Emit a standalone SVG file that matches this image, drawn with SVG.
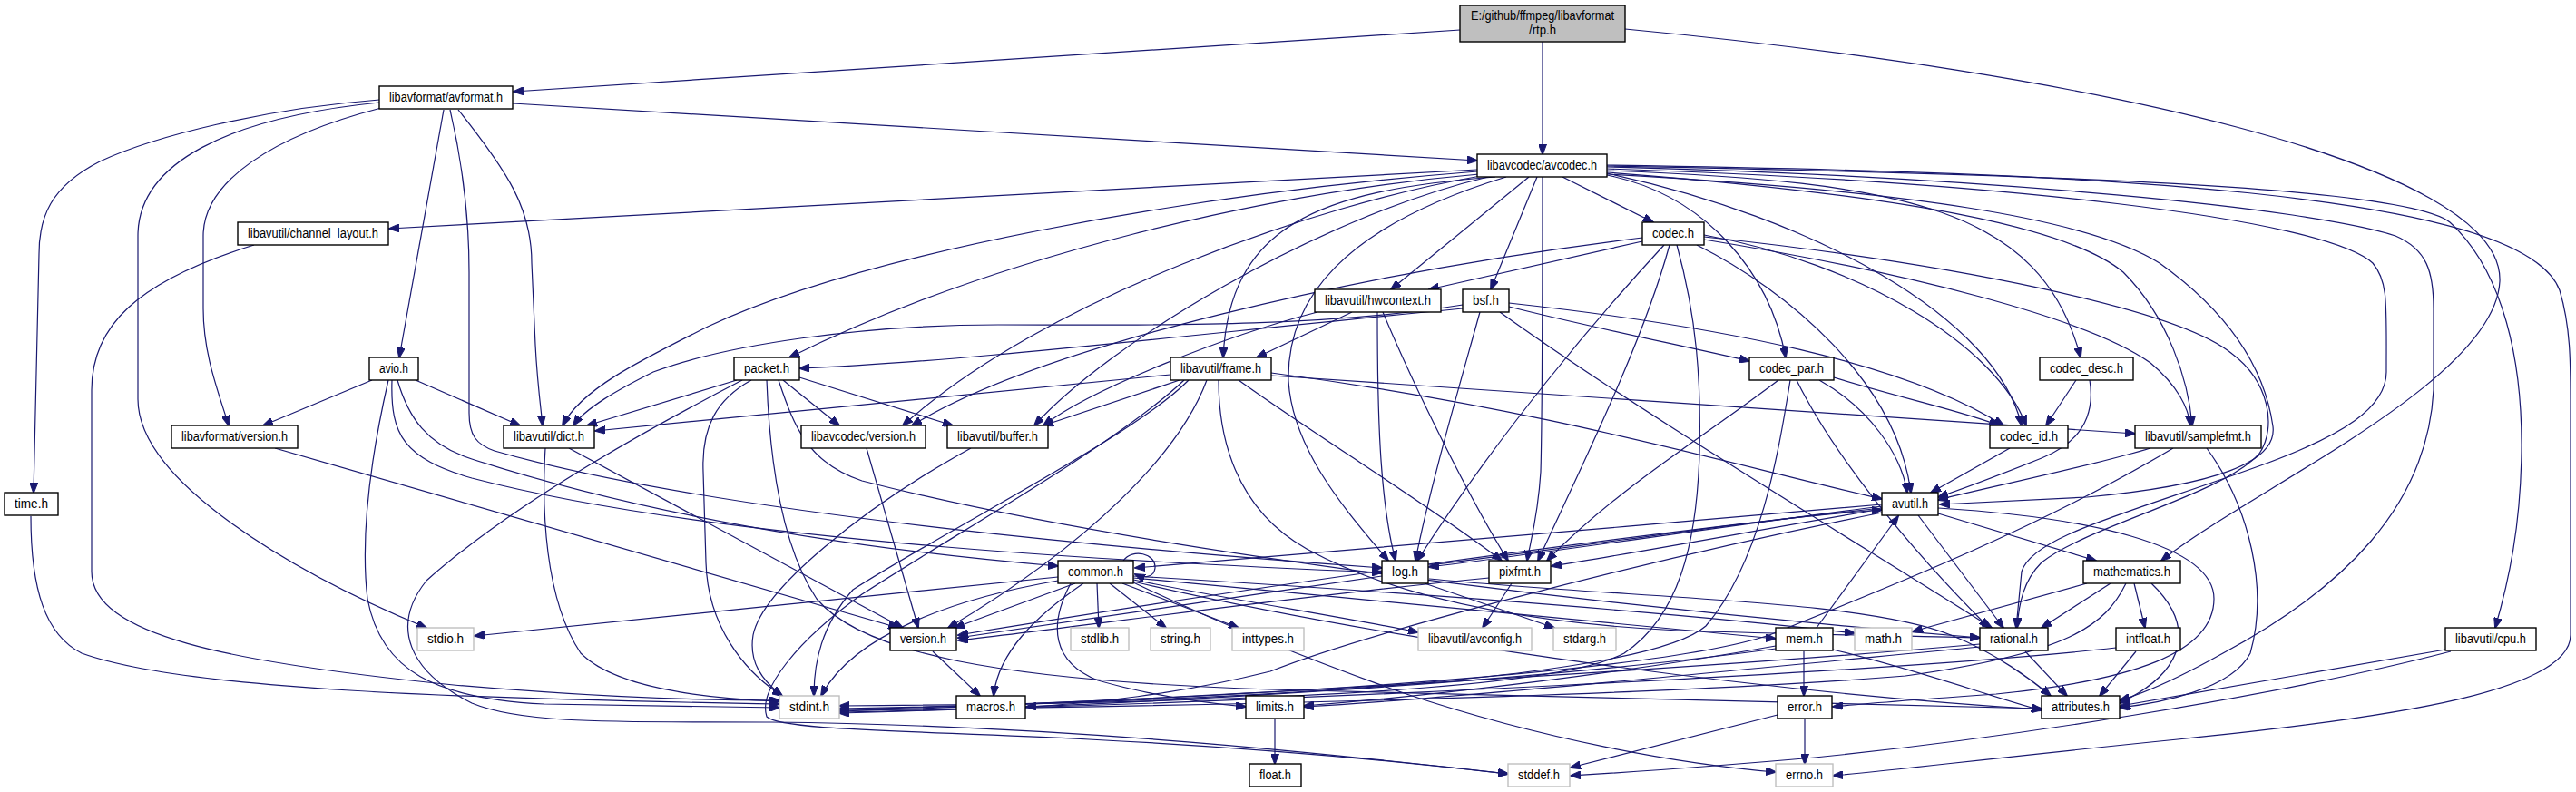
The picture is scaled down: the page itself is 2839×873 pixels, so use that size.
<svg xmlns="http://www.w3.org/2000/svg" width="2839" height="873" viewBox="0 0 2839 873">
<defs>
<marker id="arrow" viewBox="0 0 12 9" refX="11" refY="4.5" markerWidth="12" markerHeight="9" markerUnits="userSpaceOnUse" orient="auto">
<path d="M0,0 L12,4.5 L0,9 z" fill="#191970" stroke="#191970" stroke-width="1"/>
</marker>
<style>
.e path{fill:none;stroke:#191970;stroke-width:1.2;marker-end:url(#arrow)}
.n rect{fill:#ffffff;stroke:#000000;stroke-width:1.4}
.x rect{fill:#ffffff;stroke:#bfbfbf;stroke-width:1.4}
.r rect{fill:#bfbfbf;stroke:#000000;stroke-width:1.4}
text{font-family:"Liberation Sans",Arial,sans-serif;font-size:14px;fill:#000;text-anchor:middle}
</style>
</defs>
<rect width="2839" height="873" fill="#ffffff"/>
<g id="edges" class="e">
<path d="M1609,33 L566,101"/>
<path d="M1700,46 L1700,170"/>
<path d="M1791,32 C2300,80 2760,180 2755,310 C2750,420 2480,540 2382,618"/>
<path d="M418,110 C290,120 170,150 110,178 C55,206 43,240 43,280 L37,543"/>
<path d="M418,113 C250,130 152,180 152,260 L152,440 C152,530 320,630 470,692"/>
<path d="M420,119 C300,150 224,200 224,260 L224,340 C224,390 240,430 252,469"/>
<path d="M489,121 L440,394"/>
<path d="M496,121 C512,190 517,250 517,300 L517,455 C517,480 525,490 545,497 C800,570 1300,610 1523,626"/>
<path d="M505,121 C560,190 586,230 586,290 L590,380 C592,420 596,450 598,469"/>
<path d="M565,114 L1628,177"/>
<path d="M410,419 L290,469"/>
<path d="M428,419 C405,520 398,600 405,660 C420,740 480,770 600,776 L859,780"/>
<path d="M438,419 C450,460 470,490 520,506 C750,580 1000,610 1166,624"/>
<path d="M458,419 L573,469"/>
<path d="M432,419 C430,480 445,505 520,527 C800,600 1300,622 1523,631"/>
<path d="M1628,187 L429,252"/>
<path d="M1628,189 C1300,215 950,280 780,360 C700,400 640,430 620,469"/>
<path d="M1630,192 C1400,212 1100,280 870,394"/>
<path d="M1632,194 C1450,225 1150,330 995,469"/>
<path d="M1640,195 C1450,240 1220,380 1140,469"/>
<path d="M1648,195 C1450,210 1355,250 1348,394"/>
<path d="M1660,195 C1480,250 1418,330 1420,420 C1425,500 1490,570 1530,618"/>
<path d="M1685,195 L1533,319"/>
<path d="M1694,195 L1643,319"/>
<path d="M1700,195 C1700,300 1700,450 1698,520 C1695,570 1686,600 1683,618"/>
<path d="M1722,195 L1822,245"/>
<path d="M1771,193 C1880,215 1950,300 1968,394"/>
<path d="M1771,191 C2000,240 2200,350 2228,469"/>
<path d="M1771,188 C2100,200 2250,230 2293,394"/>
<path d="M1771,190 C2100,215 2280,250 2340,300 C2390,350 2412,420 2416,469"/>
<path d="M1771,192 C2100,210 2300,240 2380,290 C2450,340 2495,400 2505,470 C2510,510 2440,535 2300,548 L2138,556"/>
<path d="M1771,186 C2200,200 2560,240 2615,290 C2632,310 2630,333 2630,410 C2630,450 2580,480 2500,510 C2350,565 2240,590 2228,630 L2222,692"/>
<path d="M1771,184 C2200,195 2550,230 2640,260 C2675,275 2682,300 2682,340 L2682,430 C2675,560 2580,650 2450,720 C2400,748 2360,765 2336,772"/>
<path d="M1771,183 C2250,192 2650,205 2700,245 C2760,300 2780,400 2779,497 C2778,580 2765,640 2750,692"/>
<path d="M1771,182 C2300,190 2780,210 2821,320 C2833,360 2833,400 2833,440 L2833,700 C2833,760 2650,790 2400,815 C2200,835 2080,850 2020,855"/>
<path d="M1810,262 C1500,300 1150,380 1005,469"/>
<path d="M1810,266 L1575,319"/>
<path d="M1834,270 C1760,350 1650,480 1562,618"/>
<path d="M1840,270 C1810,380 1740,520 1695,618"/>
<path d="M1848,270 C1870,350 1875,420 1873,500 C1870,600 1850,680 1790,720 C1700,770 1200,776 925,778"/>
<path d="M1870,270 C1970,320 2090,420 2106,543"/>
<path d="M1878,259 C2050,290 2200,380 2233,469"/>
<path d="M1878,264 C2100,300 2300,350 2370,400 C2400,425 2412,450 2414,469"/>
<path d="M1878,261 C2150,290 2400,340 2460,390 C2500,420 2510,470 2490,500 C2450,545 2300,580 2250,620 C2230,640 2225,665 2223,692"/>
<path d="M1490,344 L1385,394"/>
<path d="M1518,344 C1518,450 1520,550 1538,618"/>
<path d="M1524,344 C1560,430 1620,550 1662,618"/>
<path d="M1452,344 C1350,370 1200,430 1150,469"/>
<path d="M1612,340 C1300,370 1050,400 881,406"/>
<path d="M1612,336 C1450,362 1250,358 1100,358 C950,358 800,380 720,410 C680,430 645,450 632,469"/>
<path d="M1631,344 C1610,420 1575,540 1560,618"/>
<path d="M1653,344 C1800,450 2050,600 2195,692"/>
<path d="M1663,338 C1750,360 1850,380 1928,398"/>
<path d="M1663,334 C1900,360 2100,400 2208,469"/>
<path d="M863,419 L925,469"/>
<path d="M881,416 L1050,469"/>
<path d="M812,419 L647,469"/>
<path d="M818,419 C700,480 560,560 470,640 C430,690 450,740 520,775 C580,800 700,795 850,796 C1200,800 1500,835 1662,853"/>
<path d="M828,419 C790,440 773,470 775,520 L778,620 C780,690 820,740 862,767"/>
<path d="M845,419 C848,500 860,600 900,660 C950,720 1100,750 1400,760 C1800,770 2100,776 2250,781"/>
<path d="M858,419 C875,470 890,510 950,530 C1300,620 1900,680 2182,703"/>
<path d="M1300,419 L1150,469"/>
<path d="M1290,413 L656,475"/>
<path d="M1310,419 C1250,480 1050,580 940,650 C905,690 897,730 897,767"/>
<path d="M1330,419 C1300,500 1200,600 1045,692"/>
<path d="M1305,419 C1230,490 1050,590 950,655 C880,705 835,760 845,790 C860,805 1000,805 1200,815 C1400,825 1550,840 1662,853"/>
<path d="M1401,411 C1700,450 1900,510 2074,550"/>
<path d="M1401,414 C1800,440 2100,460 2353,478"/>
<path d="M1365,419 C1450,480 1580,560 1655,618"/>
<path d="M1343,419 C1343,480 1360,560 1440,605 C1550,665 1700,688 1850,695 C2000,700 2120,701 2182,703"/>
<path d="M1960,419 C1880,480 1780,540 1705,618"/>
<path d="M1973,419 C1960,500 1940,620 1880,690 C1800,760 1200,776 925,781"/>
<path d="M1980,419 C2020,500 2100,600 2192,692"/>
<path d="M2005,419 C2060,450 2095,500 2102,543"/>
<path d="M2021,416 C2100,440 2170,455 2203,469"/>
<path d="M2288,419 L2255,469"/>
<path d="M2303,419 C2308,450 2300,485 2250,505 C2200,525 2160,540 2136,548"/>
<path d="M2215,494 L2128,543"/>
<path d="M2370,494 C2300,515 2200,535 2136,551"/>
<path d="M2395,494 C2250,580 2100,640 1950,700 C1800,750 1200,776 925,782"/>
<path d="M2432,494 C2480,560 2500,650 2480,720 C2460,760 2380,775 2336,780"/>
<path d="M2074,556 C1800,580 1500,605 1251,626"/>
<path d="M2074,560 C1700,600 1300,660 1056,700"/>
<path d="M2074,565 C1800,620 1500,700 1400,740 C1300,765 1200,776 1131,779"/>
<path d="M2136,560 C2300,570 2440,600 2440,660 C2440,720 2350,750 2200,765 C2100,772 2050,776 2020,779"/>
<path d="M2114,568 L2208,692"/>
<path d="M2136,566 L2310,618"/>
<path d="M2074,558 C1900,580 1700,610 1575,625"/>
<path d="M2074,561 C1950,582 1800,610 1710,624"/>
<path d="M1570,643 L1713,692"/>
<path d="M1575,623 C1800,595 1950,570 2074,562"/>
<path d="M1523,635 C1350,660 1150,690 1056,703"/>
<path d="M1575,638 C1800,660 2050,660 2150,700 C2200,720 2240,750 2260,767"/>
<path d="M1666,643 L1634,692"/>
<path d="M1641,637 C1400,660 1200,690 1056,706"/>
<path d="M1238,618 C1248,604 1274,610 1273,626 C1272,636 1262,638 1251,633"/>
<path d="M1166,636 L523,701"/>
<path d="M1185,643 L1052,692"/>
<path d="M1166,640 C1050,660 940,700 905,767"/>
<path d="M1194,643 C1140,680 1100,720 1095,767"/>
<path d="M1180,643 C1155,690 1160,730 1210,750 C1280,770 1340,776 1373,779"/>
<path d="M1209,643 L1211,692"/>
<path d="M1223,643 L1285,692"/>
<path d="M1237,643 L1365,692"/>
<path d="M1249,639 C1350,660 1480,680 1563,697"/>
<path d="M1249,637 C1500,660 1800,690 1957,704"/>
<path d="M1249,635 C1500,650 1800,670 2044,698"/>
<path d="M1249,641 C1500,700 1900,760 2250,782"/>
<path d="M1249,642 C1350,690 1450,730 1550,765 C1700,815 1850,842 1957,851"/>
<path d="M2300,643 L2108,696"/>
<path d="M2326,643 L2250,692"/>
<path d="M2343,643 C2320,690 2280,720 2100,745 C1800,770 1200,780 925,783"/>
<path d="M2352,643 L2364,692"/>
<path d="M2371,643 C2420,690 2410,740 2336,775"/>
<path d="M2232,718 L2278,767"/>
<path d="M2182,713 C1900,740 1600,770 1437,779"/>
<path d="M2182,710 C1900,735 1300,772 925,784"/>
<path d="M2354,718 L2314,767"/>
<path d="M2332,714 C2100,740 1400,775 925,785"/>
<path d="M1988,718 L1988,767"/>
<path d="M2002,692 L2092,569"/>
<path d="M1957,712 C1800,740 1600,765 1437,778"/>
<path d="M1957,715 C1700,750 1300,776 925,786"/>
<path d="M2020,716 C2120,740 2200,770 2250,783"/>
<path d="M1989,793 L1989,842"/>
<path d="M1959,788 L1731,846"/>
<path d="M1028,718 L1080,767"/>
<path d="M955,494 L1012,692"/>
<path d="M303,494 L990,692"/>
<path d="M601,494 C597,560 600,660 640,720 C680,760 780,770 859,773"/>
<path d="M627,494 L995,692"/>
<path d="M1070,494 C950,560 840,650 830,700 C825,730 840,750 862,767"/>
<path d="M280,270 C150,310 101,360 101,430 L101,630 C101,700 250,730 500,755 C650,768 780,772 859,772"/>
<path d="M34,569 C34,650 50,700 90,720 C200,760 500,770 859,776"/>
<path d="M1405,793 L1405,842"/>
<path d="M2695,716 L2337,778"/>
<path d="M2701,718 C2500,770 2200,815 2000,835 C1850,848 1780,852 1731,855"/>
</g>
<g id="node-rtp" class="r"><rect x="1609" y="6" width="182" height="40"/><text x="1700" y="22" textLength="158" lengthAdjust="spacingAndGlyphs">E:/github/ffmpeg/libavformat</text><text x="1700" y="38" textLength="30" lengthAdjust="spacingAndGlyphs">/rtp.h</text></g>
<g id="node-avformat" class="n"><rect x="418" y="95" width="147" height="25"/><text x="491.5" y="112" textLength="125" lengthAdjust="spacingAndGlyphs">libavformat/avformat.h</text></g>
<g id="node-avcodec" class="n"><rect x="1628" y="170" width="143" height="25"/><text x="1699.5" y="187" textLength="121" lengthAdjust="spacingAndGlyphs">libavcodec/avcodec.h</text></g>
<g id="node-channel_layout" class="n"><rect x="262" y="245" width="166" height="25"/><text x="345" y="262" textLength="144" lengthAdjust="spacingAndGlyphs">libavutil/channel_layout.h</text></g>
<g id="node-codec" class="n"><rect x="1810" y="245" width="68" height="25"/><text x="1844" y="262" textLength="46" lengthAdjust="spacingAndGlyphs">codec.h</text></g>
<g id="node-hwcontext" class="n"><rect x="1449" y="319" width="139" height="25"/><text x="1518.5" y="336" textLength="117" lengthAdjust="spacingAndGlyphs">libavutil/hwcontext.h</text></g>
<g id="node-bsf" class="n"><rect x="1612" y="319" width="51" height="25"/><text x="1637.5" y="336" textLength="29" lengthAdjust="spacingAndGlyphs">bsf.h</text></g>
<g id="node-avio" class="n"><rect x="407" y="394" width="54" height="25"/><text x="434" y="411" textLength="32" lengthAdjust="spacingAndGlyphs">avio.h</text></g>
<g id="node-packet" class="n"><rect x="809" y="394" width="72" height="25"/><text x="845" y="411" textLength="50" lengthAdjust="spacingAndGlyphs">packet.h</text></g>
<g id="node-frame" class="n"><rect x="1290" y="394" width="111" height="25"/><text x="1345.5" y="411" textLength="89" lengthAdjust="spacingAndGlyphs">libavutil/frame.h</text></g>
<g id="node-codec_par" class="n"><rect x="1928" y="394" width="93" height="25"/><text x="1974.5" y="411" textLength="71" lengthAdjust="spacingAndGlyphs">codec_par.h</text></g>
<g id="node-codec_desc" class="n"><rect x="2248" y="394" width="103" height="25"/><text x="2299.5" y="411" textLength="81" lengthAdjust="spacingAndGlyphs">codec_desc.h</text></g>
<g id="node-lavf_version" class="n"><rect x="189" y="469" width="139" height="25"/><text x="258.5" y="486" textLength="117" lengthAdjust="spacingAndGlyphs">libavformat/version.h</text></g>
<g id="node-dict" class="n"><rect x="555" y="469" width="100" height="25"/><text x="605" y="486" textLength="78" lengthAdjust="spacingAndGlyphs">libavutil/dict.h</text></g>
<g id="node-lavc_version" class="n"><rect x="883" y="469" width="137" height="25"/><text x="951.5" y="486" textLength="115" lengthAdjust="spacingAndGlyphs">libavcodec/version.h</text></g>
<g id="node-buffer" class="n"><rect x="1044" y="469" width="111" height="25"/><text x="1099.5" y="486" textLength="89" lengthAdjust="spacingAndGlyphs">libavutil/buffer.h</text></g>
<g id="node-codec_id" class="n"><rect x="2193" y="469" width="86" height="25"/><text x="2236" y="486" textLength="64" lengthAdjust="spacingAndGlyphs">codec_id.h</text></g>
<g id="node-samplefmt" class="n"><rect x="2353" y="469" width="139" height="25"/><text x="2422.5" y="486" textLength="117" lengthAdjust="spacingAndGlyphs">libavutil/samplefmt.h</text></g>
<g id="node-time" class="n"><rect x="5" y="543" width="59" height="25"/><text x="34.5" y="560" textLength="37" lengthAdjust="spacingAndGlyphs">time.h</text></g>
<g id="node-avutil" class="n"><rect x="2074" y="543" width="62" height="25"/><text x="2105" y="560" textLength="40" lengthAdjust="spacingAndGlyphs">avutil.h</text></g>
<g id="node-common" class="n"><rect x="1166" y="618" width="83" height="25"/><text x="1207.5" y="635" textLength="61" lengthAdjust="spacingAndGlyphs">common.h</text></g>
<g id="node-log" class="n"><rect x="1523" y="618" width="51" height="25"/><text x="1548.5" y="635" textLength="29" lengthAdjust="spacingAndGlyphs">log.h</text></g>
<g id="node-pixfmt" class="n"><rect x="1641" y="618" width="68" height="25"/><text x="1675" y="635" textLength="46" lengthAdjust="spacingAndGlyphs">pixfmt.h</text></g>
<g id="node-mathematics" class="n"><rect x="2296" y="618" width="107" height="25"/><text x="2349.5" y="635" textLength="85" lengthAdjust="spacingAndGlyphs">mathematics.h</text></g>
<g id="node-stdio" class="x"><rect x="460" y="692" width="62" height="25"/><text x="491" y="709" textLength="40" lengthAdjust="spacingAndGlyphs">stdio.h</text></g>
<g id="node-version" class="n"><rect x="981" y="692" width="73" height="25"/><text x="1017.5" y="709" textLength="51" lengthAdjust="spacingAndGlyphs">version.h</text></g>
<g id="node-stdlib" class="x"><rect x="1180" y="692" width="64" height="25"/><text x="1212" y="709" textLength="42" lengthAdjust="spacingAndGlyphs">stdlib.h</text></g>
<g id="node-string" class="x"><rect x="1268" y="692" width="66" height="25"/><text x="1301" y="709" textLength="44" lengthAdjust="spacingAndGlyphs">string.h</text></g>
<g id="node-inttypes" class="x"><rect x="1358" y="692" width="79" height="25"/><text x="1397.5" y="709" textLength="57" lengthAdjust="spacingAndGlyphs">inttypes.h</text></g>
<g id="node-avconfig" class="x"><rect x="1563" y="692" width="125" height="25"/><text x="1625.5" y="709" textLength="103" lengthAdjust="spacingAndGlyphs">libavutil/avconfig.h</text></g>
<g id="node-stdarg" class="x"><rect x="1712" y="692" width="69" height="25"/><text x="1746.5" y="709" textLength="47" lengthAdjust="spacingAndGlyphs">stdarg.h</text></g>
<g id="node-mem" class="n"><rect x="1957" y="692" width="63" height="25"/><text x="1988.5" y="709" textLength="41" lengthAdjust="spacingAndGlyphs">mem.h</text></g>
<g id="node-math" class="x"><rect x="2044" y="692" width="63" height="25"/><text x="2075.5" y="709" textLength="41" lengthAdjust="spacingAndGlyphs">math.h</text></g>
<g id="node-rational" class="n"><rect x="2182" y="692" width="75" height="25"/><text x="2219.5" y="709" textLength="53" lengthAdjust="spacingAndGlyphs">rational.h</text></g>
<g id="node-intfloat" class="n"><rect x="2332" y="692" width="71" height="25"/><text x="2367.5" y="709" textLength="49" lengthAdjust="spacingAndGlyphs">intfloat.h</text></g>
<g id="node-cpu" class="n"><rect x="2695" y="692" width="100" height="25"/><text x="2745" y="709" textLength="78" lengthAdjust="spacingAndGlyphs">libavutil/cpu.h</text></g>
<g id="node-stdint" class="x"><rect x="859" y="767" width="66" height="25"/><text x="892" y="784" textLength="44" lengthAdjust="spacingAndGlyphs">stdint.h</text></g>
<g id="node-macros" class="n"><rect x="1054" y="767" width="76" height="25"/><text x="1092" y="784" textLength="54" lengthAdjust="spacingAndGlyphs">macros.h</text></g>
<g id="node-limits" class="n"><rect x="1373" y="767" width="64" height="25"/><text x="1405" y="784" textLength="42" lengthAdjust="spacingAndGlyphs">limits.h</text></g>
<g id="node-error" class="n"><rect x="1959" y="767" width="60" height="25"/><text x="1989" y="784" textLength="38" lengthAdjust="spacingAndGlyphs">error.h</text></g>
<g id="node-attributes" class="n"><rect x="2250" y="767" width="86" height="25"/><text x="2293" y="784" textLength="64" lengthAdjust="spacingAndGlyphs">attributes.h</text></g>
<g id="node-float" class="n"><rect x="1377" y="842" width="57" height="25"/><text x="1405.5" y="859" textLength="35" lengthAdjust="spacingAndGlyphs">float.h</text></g>
<g id="node-stddef" class="x"><rect x="1662" y="842" width="68" height="25"/><text x="1696" y="859" textLength="46" lengthAdjust="spacingAndGlyphs">stddef.h</text></g>
<g id="node-errno" class="x"><rect x="1957" y="842" width="63" height="25"/><text x="1988.5" y="859" textLength="41" lengthAdjust="spacingAndGlyphs">errno.h</text></g>
</svg>
